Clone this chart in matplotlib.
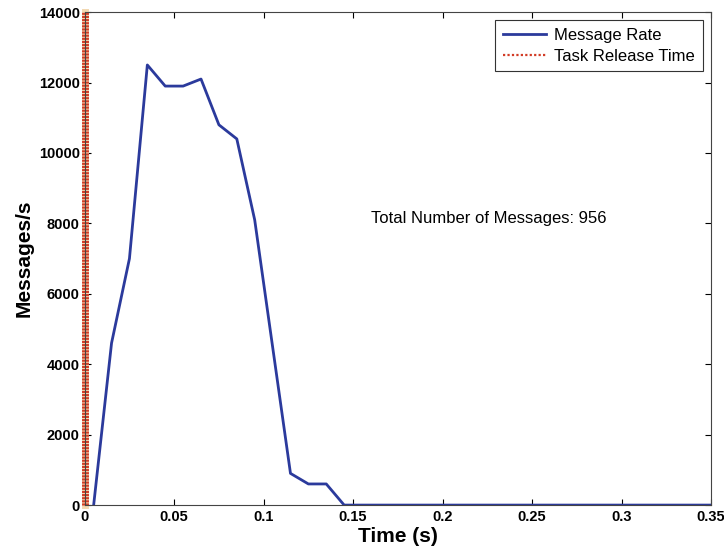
import matplotlib
matplotlib.use("Agg")
import matplotlib.pyplot as plt
from matplotlib.lines import Line2D

plt.rcParams["font.family"] = ["Liberation Sans", "DejaVu Sans"]

# ─── Dati ─────────────────────────────────────────────────────────────────────
time_s = [0.005, 0.015, 0.025, 0.035, 0.045, 0.055, 0.065, 0.075, 0.085,
          0.095, 0.105, 0.115, 0.125, 0.135, 0.145, 0.35]
msg_rate = [0, 4600, 7000, 12500, 11900, 11900, 12100, 10800, 10400,
            8100, 4500, 900, 600, 600, 0, 0]
release_t = [0, 0]
release_y = [0, 14000]
total_msgs = 956

x_ticks = [0, 0.05, 0.1, 0.15, 0.2, 0.25, 0.3, 0.35]
x_ticklabels = ["0", "0.05", "0.1", "0.15", "0.2", "0.25", "0.3", "0.35"]
y_ticks = [0, 2000, 4000, 6000, 8000, 10000, 12000, 14000]

BLUE = "#2B3A9C"
RED = "#D23C26"

# ─── Grafico ──────────────────────────────────────────────────────────────────
fig = plt.figure(figsize=(7.24, 5.52), dpi=100)
ax = fig.add_axes([0.117, 0.085, 0.865, 0.893])

ax.plot(time_s, msg_rate, color=BLUE, lw=2.0)
# linea tratteggiata fitta: fondo chiaro + trattini rossi
ax.plot(release_t, release_y, color="#F2D7B0", lw=5, clip_on=False)
ax.plot(release_t, release_y, color=RED, lw=5, dashes=(0.3, 0.15),
        dash_capstyle="butt", clip_on=False)

ax.text(0.16, 8150, f"Total Number of Messages: {total_msgs}",
        fontsize=12, va="center", ha="left")

ax.set_xlim(0, 0.35)
ax.set_ylim(0, 14000)
ax.set_xticks(x_ticks)
ax.set_xticklabels(x_ticklabels)
ax.set_yticks(y_ticks)
ax.tick_params(direction="in", top=True, right=True, length=4,
               labelsize=10.5, width=0.8)
for lab in ax.get_xticklabels() + ax.get_yticklabels():
    lab.set_fontweight("bold")
for sp in ax.spines.values():
    sp.set_color("#444444")
    sp.set_linewidth(0.8)

ax.set_xlabel("Time (s)", fontsize=15, fontweight="bold", labelpad=2)
ax.set_ylabel("Messages/s", fontsize=15, fontweight="bold", labelpad=4)

handles = [Line2D([], [], color=BLUE, lw=2.0),
           Line2D([], [], color=RED, lw=1.6, ls=(0, (1, 1)))]
leg = ax.legend(handles, ["Message Rate", "Task Release Time"],
                loc="upper right", fontsize=12, handlelength=2.6,
                borderaxespad=0.5, fancybox=False, framealpha=1,
                borderpad=0.45, labelspacing=0.35, handletextpad=0.5)
leg.get_frame().set_edgecolor("#333333")
leg.get_frame().set_linewidth(0.8)

plt.savefig("out.png", dpi=100)
plt.close()
